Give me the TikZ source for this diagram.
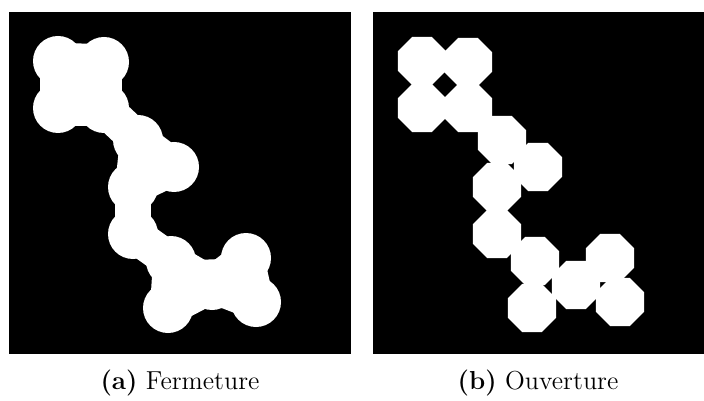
\documentclass[tikz,border=0pt]{standalone}
\usetikzlibrary{shapes.geometric}

\tikzset{
  disc/.style={circle,fill=white,inner sep=0pt,minimum size=25pt},
  octo/.style={regular polygon,regular polygon sides=8,fill=white,inner sep=0pt,minimum size=26pt},
  bridge/.style={white,line width=18pt},
  caption/.style={font=\fontsize{13}{15}\selectfont,anchor=base}
}

\newcommand{\centres}{58/61,104/62,58/108,104/108,138/140,174/167,133/187,133/234,171/261,168/308,212/285,246/258,256/302}

\begin{document}
\begin{tikzpicture}[x=0.5pt,y=-0.5pt]
  \useasboundingbox (0,0) rectangle (704,400);
  % Fermeture
  \fill[black] (9,12) rectangle (351,354);
  \foreach \x/\y [count=\i] in \centres
    \node[disc] (d\i) at (\x,\y) {};
  \foreach \u/\v in {1/2,1/3,2/4,3/4,4/5,5/6,5/7,6/7,7/8,8/9,9/10,9/11,10/11,11/12,11/13,12/13}
    \draw[bridge] (d\u.center) -- (d\v.center);
  \foreach \p/\q/\r in {5/6/7,9/10/11,9/11/12,11/12/13}
    \fill[white] (d\p.center) -- (d\q.center) -- (d\r.center) -- cycle;
  \fill[white] (d1.center) -- (d2.center) -- (d4.center) -- (d3.center) -- cycle;
  % Ouverture
  \fill[black] (373,12) rectangle (704,354);
  \begin{scope}[shift={(364,0)}]
    \foreach \x/\y [count=\i] in \centres
      \node[octo] (o\i) at (\x,\y) {};
  \end{scope}
  % Legendes
  \node[caption] (capa) at (180,389) {\textbf{(a)} Fermeture};
  \node[caption] (capb) at (538,389) {\textbf{(b)} Ouverture};
\end{tikzpicture}
\end{document}
